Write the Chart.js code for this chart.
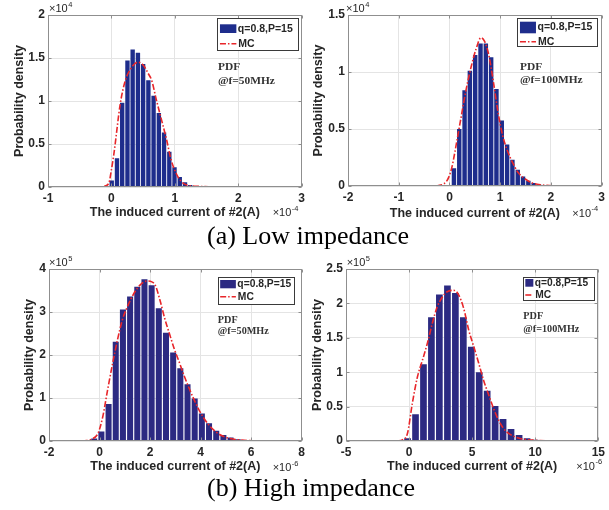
<!DOCTYPE html>
<html>
<head>
<meta charset="utf-8">
<script src="https://cdn.jsdelivr.net/npm/chart.js@4.4.1/dist/chart.umd.min.js"></script>
<style>
  html, body { margin: 0; padding: 0; background: #fff; }
  body { width: 609px; height: 510px; position: relative; overflow: hidden; }
  canvas { position: absolute; }
  .caption { position: absolute; left: 207px; font: 26px "Liberation Serif", "Times New Roman", serif; line-height: 26px; color: #000; white-space: nowrap; }
</style>
</head>
<body>
<canvas id="lowF50" width="309" height="225" style="left:0;top:0"></canvas>
<canvas id="lowF100" width="309" height="225" style="left:300px;top:0"></canvas>
<canvas id="highF50" width="309" height="230" style="left:0;top:250px"></canvas>
<canvas id="highF100" width="309" height="230" style="left:300px;top:250px"></canvas>
<div class="caption" style="top:223px">(a) Low impedance</div>
<div class="caption" style="top:475px">(b) High impedance</div>
<script>
// Low impedance, f = 50 MHz  (current in 1e-4 A, density in 1e4)
const lowF50BinCenters = [0.005, 0.088, 0.170, 0.253, 0.335, 0.418, 0.500, 0.583, 0.665, 0.748, 0.830, 0.913, 0.995, 1.078, 1.160, 1.243];
const lowF50BinDensity = [0.075, 0.335, 0.98, 1.47, 1.60, 1.56, 1.43, 1.24, 1.06, 0.86, 0.635, 0.41, 0.23, 0.115, 0.054, 0.022];
const lowF50McX = [-0.12, -0.11, -0.04, 0.0, 0.04, 0.14, 0.22, 0.30, 0.38, 0.43, 0.51, 0.58, 0.635, 0.71, 0.79, 0.87, 0.94, 1.02, 1.10, 1.20, 1.35, 1.53];
const lowF50McY = [0, 0.008, 0.046, 0.2, 0.39, 0.97, 1.24, 1.37, 1.44, 1.45, 1.41, 1.32, 1.24, 1.01, 0.78, 0.55, 0.32, 0.16, 0.065, 0.02, 0.008, 0.003];
const lowF50XTicks = [-1, 0, 1, 2, 3];
const lowF50YTicks = [0, 0.5, 1, 1.5, 2];

// Low impedance, f = 100 MHz  (current in 1e-4 A, density in 1e4)
const lowF100BinCenters = [0.088, 0.193, 0.298, 0.402, 0.507, 0.612, 0.717, 0.822, 0.926, 1.031, 1.136, 1.241, 1.346, 1.450, 1.555, 1.660, 1.765];
const lowF100BinDensity = [0.155, 0.50, 0.84, 1.01, 1.15, 1.25, 1.25, 1.13, 0.85, 0.575, 0.365, 0.23, 0.143, 0.083, 0.046, 0.026, 0.014];
const lowF100McX = [-0.26, -0.06, 0.04, 0.14, 0.24, 0.33, 0.43, 0.53, 0.62, 0.69, 0.77, 0.86, 0.96, 1.05, 1.15, 1.25, 1.35, 1.48, 1.61, 1.81, 2.2];
const lowF100McY = [0, 0.04, 0.15, 0.38, 0.63, 0.85, 1.05, 1.21, 1.30, 1.27, 1.16, 0.93, 0.64, 0.44, 0.30, 0.20, 0.12, 0.066, 0.03, 0.01, 0];
const lowF100XTicks = [-2, -1, 0, 1, 2, 3];
const lowF100YTicks = [0, 0.5, 1, 1.5];

// High impedance, f = 50 MHz  (current in 1e-6 A, density in 1e5)
const highF50BinCenters = [-0.21, 0.074, 0.358, 0.642, 0.926, 1.21, 1.494, 1.778, 2.062, 2.346, 2.63, 2.914, 3.198, 3.482, 3.766, 4.05, 4.334, 4.618, 4.902, 5.186, 5.47, 5.754];
const highF50BinDensity = [0.06, 0.22, 0.86, 2.31, 3.06, 3.36, 3.59, 3.76, 3.62, 3.085, 2.52, 2.06, 1.69, 1.32, 0.99, 0.64, 0.41, 0.24, 0.14, 0.08, 0.04, 0.02];
const highF50McX = [-0.7, -0.58, -0.32, -0.06, 0.13, 0.32, 0.52, 0.71, 0.90, 1.10, 1.36, 1.61, 1.87, 2.07, 2.20, 2.39, 2.58, 2.78, 2.97, 3.17, 3.36, 3.55, 3.75, 3.94, 4.13, 4.33, 4.59, 4.85, 5.17, 5.62, 6.2, 6.8];
const highF50McY = [0, 0.005, 0.04, 0.18, 0.57, 1.19, 1.81, 2.35, 2.81, 3.12, 3.43, 3.63, 3.72, 3.70, 3.63, 3.28, 2.85, 2.47, 2.12, 1.81, 1.50, 1.22, 0.95, 0.72, 0.53, 0.37, 0.22, 0.12, 0.06, 0.02, 0.005, 0];
const highF50XTicks = [-2, 0, 2, 4, 6, 8];
const highF50YTicks = [0, 1, 2, 3, 4];

// High impedance, f = 100 MHz  (current in 1e-6 A, density in 1e5)
const highF100BinCenters = [-0.12, 0.51, 1.14, 1.77, 2.40, 3.04, 3.67, 4.30, 4.93, 5.56, 6.19, 6.82, 7.45, 8.08, 8.72, 9.35, 9.98];
const highF100BinDensity = [0.04, 0.39, 1.116, 1.80, 2.13, 2.26, 2.15, 1.80, 1.37, 1.00, 0.73, 0.51, 0.32, 0.175, 0.087, 0.04, 0.018];
const highF100McX = [-0.92, -0.53, -0.13, 0.26, 0.66, 1.05, 1.45, 1.84, 2.23, 2.63, 3.02, 3.55, 3.94, 4.34, 4.73, 5.13, 5.52, 5.91, 6.31, 6.70, 7.10, 7.49, 7.89, 8.41, 8.94, 9.99, 11.5];
const highF100McY = [0, 0.015, 0.11, 0.55, 0.93, 1.17, 1.42, 1.71, 1.95, 2.09, 2.17, 2.19, 2.12, 1.92, 1.61, 1.37, 1.13, 0.88, 0.67, 0.47, 0.30, 0.18, 0.11, 0.06, 0.03, 0.01, 0];
const highF100XTicks = [-5, 0, 5, 10, 15];
const highF100YTicks = [0, 0.5, 1, 1.5, 2, 2.5];

const histLabel = 'q=0.8,P=15';
const mcLabel = 'MC';
const xTitle = 'The induced current of #2(A)';
const yTitle = 'Probability density';

const SANS = '"Liberation Sans", Arial, Helvetica, sans-serif';
const SERIF = '"Liberation Serif", "Times New Roman", serif';
const INK = '#262626';
const MC_RED = '#e8262a';

// Box frame, inward ticks, legend, notes and axis exponents
const panelDecor = {
  id: 'panelDecor',
  afterDraw(chart, args, o) {
    const { ctx, chartArea: a, scales } = chart;
    const sx = scales.x, sy = scales.y;
    ctx.save();

    // frame + inward tick marks
    ctx.strokeStyle = '#8f8f8f';
    ctx.lineWidth = 1;
    const L = Math.round(a.left) + 0.5, R = Math.round(a.right) - 0.5;
    const T = Math.round(a.top) + 0.5, B = Math.round(a.bottom) - 0.5;
    ctx.strokeRect(L, T, R - L, B - T);
    ctx.beginPath();
    sx.ticks.forEach(t => {
      const p = Math.round(sx.getPixelForValue(t.value)) + 0.5;
      ctx.moveTo(p, B); ctx.lineTo(p, B - 3);
      ctx.moveTo(p, T); ctx.lineTo(p, T + 3);
    });
    sy.ticks.forEach(t => {
      const p = Math.round(sy.getPixelForValue(t.value)) + 0.5;
      ctx.moveTo(L, p); ctx.lineTo(L + 3, p);
      ctx.moveTo(R, p); ctx.lineTo(R - 3, p);
    });
    ctx.stroke();

    // legend
    const lg = o.legend;
    const mc = chart.data.datasets[0], hist = chart.data.datasets[1];
    const bx = a.right - lg.inset - lg.w, by = a.top + lg.top;
    ctx.fillStyle = '#fff';
    ctx.fillRect(bx, by, lg.w, lg.h);
    ctx.strokeStyle = '#3a3a3a';
    ctx.strokeRect(Math.round(bx) + 0.5, Math.round(by) + 0.5, Math.round(lg.w), Math.round(lg.h));
    ctx.fillStyle = hist.backgroundColor;
    ctx.fillRect(bx + lg.swX, by + lg.swY, lg.swW, lg.swH);
    ctx.font = 'bold ' + lg.font + 'px ' + SANS;
    ctx.textBaseline = 'middle';
    ctx.textAlign = 'left';
    ctx.fillStyle = INK;
    ctx.fillText(hist.label, bx + lg.swX + lg.swW + 1.5, by + lg.swY + lg.swH / 2);
    ctx.strokeStyle = mc.borderColor;
    ctx.lineWidth = mc.borderWidth;
    ctx.setLineDash(mc.borderDash);
    ctx.beginPath();
    ctx.moveTo(bx + lg.swX, by + lg.mcY);
    ctx.lineTo(bx + lg.swX + lg.mcW, by + lg.mcY);
    ctx.stroke();
    ctx.setLineDash([]);
    ctx.fillStyle = INK;
    ctx.fillText(mc.label, bx + lg.swX + lg.mcW + 2, by + lg.mcY);

    // PDF note
    const nt = o.note;
    ctx.font = 'bold ' + nt.size + 'px ' + SERIF;
    ctx.fillStyle = '#333';
    ctx.fillText(nt.lines[0], a.right - nt.dx, a.top + nt.y1);
    ctx.fillText(nt.lines[1], a.right - nt.dx, a.top + nt.y2);

    // axis exponents
    const ex = o.exp;
    const drawExp = (x, y, sup) => {
      ctx.font = '11px ' + SANS;
      ctx.fillStyle = INK;
      ctx.fillText('\u00d710', x, y);
      const w = ctx.measureText('\u00d710').width;
      ctx.font = '7.5px ' + SANS;
      ctx.fillText(sup, x + w + 0.5, y - 4.5);
    };
    drawExp(a.left + ex.topDx, a.top + ex.topDy, ex.ySup);
    drawExp(a.right + ex.botDx, a.bottom + ex.botDy, ex.xSup);
    ctx.restore();
  }
};

function pairs(xs, ys) { return xs.map((x, i) => ({ x: x, y: ys[i] })); }

function makePanel(id, p) {
  const canvas = document.getElementById(id);
  const H = canvas.height, W = canvas.width;
  return new Chart(canvas, {
    type: 'bar',
    data: {
      datasets: [
        {
          type: 'line', label: mcLabel, data: pairs(p.mcX, p.mcY),
          borderColor: MC_RED, borderWidth: 1.6, borderDash: [6, 2, 1.5, 2],
          pointRadius: 0, fill: false, cubicInterpolationMode: 'monotone', order: 1
        },
        {
          type: 'bar', label: histLabel, data: pairs(p.centers, p.density),
          backgroundColor: p.barColor, borderWidth: 0,
          barPercentage: 0.84, categoryPercentage: 1, order: 2
        }
      ]
    },
    options: {
      responsive: false,
      animation: false,
      events: [],
      layout: { padding: { left: 0, top: p.area.top, right: W - p.area.right, bottom: 0 } },
      plugins: {
        legend: { display: false },
        tooltip: { enabled: false },
        panelDecor: { legend: p.legend, note: p.note, exp: p.exp }
      },
      scales: {
        x: {
          type: 'linear', offset: false,
          min: p.xTicks[0], max: p.xTicks[p.xTicks.length - 1],
          afterBuildTicks: s => { s.ticks = p.xTicks.map(v => ({ value: v })); },
          afterFit: s => { s.height = H - p.area.bottom; },
          grid: { offset: false, color: '#e4e4e4', drawTicks: false },
          border: { display: false },
          ticks: { padding: 4, color: INK, font: { family: SANS, size: 12, weight: 'bold' }, maxRotation: 0, callback: v => String(v) },
          title: { display: true, text: xTitle, color: INK, padding: { top: 0, bottom: p.xTitlePad }, font: { family: SANS, size: 12.5, weight: 'bold' } }
        },
        y: {
          type: 'linear',
          min: p.yTicks[0], max: p.yTicks[p.yTicks.length - 1],
          afterBuildTicks: s => { s.ticks = p.yTicks.map(v => ({ value: v })); },
          afterFit: s => { s.width = p.area.left; },
          grid: { color: '#e4e4e4', drawTicks: false },
          border: { display: false },
          ticks: { padding: 3, color: INK, font: { family: SANS, size: 12, weight: 'bold' }, callback: v => String(v) },
          title: { display: true, text: yTitle, color: INK, padding: { top: p.yTitlePad, bottom: 0 }, font: { family: SANS, size: 12.5, weight: 'bold' } }
        }
      }
    },
    plugins: [panelDecor]
  });
}

makePanel('lowF50', {
  centers: lowF50BinCenters, density: lowF50BinDensity, mcX: lowF50McX, mcY: lowF50McY,
  xTicks: lowF50XTicks, yTicks: lowF50YTicks, barColor: '#1e2d8c',
  area: { left: 48, right: 306, top: 15, bottom: 187 }, yTitlePad: 12.5, xTitlePad: 4.7,
  legend: { inset: 3.7, top: 3, w: 80.6, h: 32, swX: 2.6, swY: 6.3, swW: 16.4, swH: 8.7, mcY: 25.7, mcW: 16.4, font: 10.5 },
  note: { lines: ['PDF', '@f=50MHz'], dx: 83.7, y1: 51.7, y2: 66, size: 11.4 },
  exp: { topDx: 1, topDy: -5.7, botDx: -29, botDy: 26, ySup: '4', xSup: '-4' }
});

makePanel('lowF100', {
  centers: lowF100BinCenters, density: lowF100BinDensity, mcX: lowF100McX, mcY: lowF100McY,
  xTicks: lowF100XTicks, yTicks: lowF100YTicks, barColor: '#1e2d8c',
  area: { left: 48, right: 302, top: 15, bottom: 186 }, yTitlePad: 11.5, xTitlePad: 4.2,
  legend: { inset: 4, top: 3.3, w: 80.4, h: 28.4, swX: 2.7, swY: 3.4, swW: 16, swH: 11.6, mcY: 23.4, mcW: 16, font: 10.5 },
  note: { lines: ['PDF', '@f=100MHz'], dx: 81.7, y1: 51.7, y2: 65, size: 11.4 },
  exp: { topDx: -2, topDy: -5.7, botDx: -29.3, botDy: 27.5, ySup: '4', xSup: '-4' }
});

makePanel('highF50', {
  centers: highF50BinCenters, density: highF50BinDensity, mcX: highF50McX, mcY: highF50McY,
  xTicks: highF50XTicks, yTicks: highF50YTicks, barColor: '#2c2a82',
  area: { left: 49, right: 307, top: 19, bottom: 191 }, yTitlePad: 22.5, xTitlePad: 5.5,
  legend: { inset: 7.5, top: 8.3, w: 76.3, h: 26.7, swX: 2.3, swY: 2.7, swW: 15.7, swH: 8.3, mcY: 19.4, mcW: 15.7, font: 10.3 },
  note: { lines: ['PDF', '@f=50MHz'], dx: 83.8, y1: 51.7, y2: 62.7, size: 10.2 },
  exp: { topDx: 0, topDy: -5.7, botDx: -29, botDy: 27, ySup: '5', xSup: '-6' }
});

makePanel('highF100', {
  centers: highF100BinCenters, density: highF100BinDensity, mcX: highF100McX, mcY: highF100McY,
  xTicks: highF100XTicks, yTicks: highF100YTicks, barColor: '#2c2a82',
  area: { left: 46, right: 302, top: 19, bottom: 191 }, yTitlePad: 10.5, xTitlePad: 5.8,
  legend: { inset: 4, top: 7.7, w: 71, h: 23.3, swX: 2, swY: 2.3, swW: 8, swH: 7.7, mcY: 18.3, mcW: 8, font: 10.2 },
  note: { lines: ['PDF', '@f=100MHz'], dx: 75, y1: 47.7, y2: 60.3, size: 10.2 },
  exp: { topDx: 0.7, topDy: -5.7, botDx: -22, botDy: 25.7, ySup: '5', xSup: '-6' }
});
</script>
</body>
</html>
